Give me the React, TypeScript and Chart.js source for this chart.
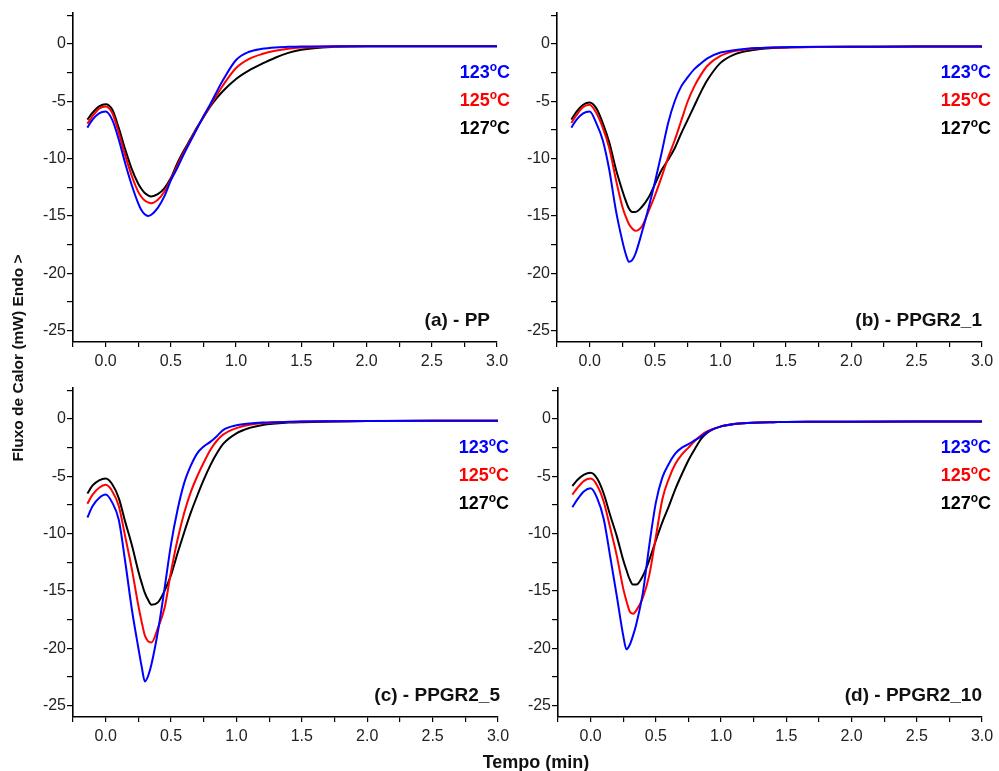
import React, { useEffect, useRef } from "react";
import { Chart, registerables } from "chart.js";

Chart.register(...registerables);

// ---- data (tempo in min, heat flow in mW) ----
const tempo = [-0.14, -0.1, -0.05, 0, 0.05, 0.1, 0.15, 0.2, 0.25, 0.275, 0.3, 0.325, 0.35, 0.4, 0.45, 0.5, 0.55, 0.6, 0.65, 0.7, 0.75, 0.8, 0.85, 0.9, 1.0, 1.1, 1.2, 1.3, 1.4, 1.5, 1.75, 2.0, 2.5, 3.0];

const ppT123 = [-7.3, -6.6, -6.05, -5.9, -6.6, -8.3, -10.4, -12.3, -13.9, -14.5, -14.85, -15.0, -14.9, -14.3, -13.3, -11.9, -10.8, -9.6, -8.5, -7.4, -6.3, -5.3, -4.2, -3.15, -1.4, -0.68, -0.42, -0.3, -0.25, -0.22, -0.2, -0.2, -0.2, -0.2];
const ppT125 = [-6.95, -6.3, -5.65, -5.45, -6.0, -7.7, -9.7, -11.5, -12.9, -13.35, -13.65, -13.82, -13.9, -13.6, -12.9, -11.8, -10.6, -9.45, -8.4, -7.35, -6.35, -5.4, -4.5, -3.6, -2.1, -1.3, -0.88, -0.6, -0.42, -0.32, -0.23, -0.2, -0.2, -0.2];
const ppT127 = [-6.6, -6.0, -5.45, -5.25, -5.7, -7.3, -9.2, -10.9, -12.2, -12.65, -13.0, -13.2, -13.3, -13.1, -12.6, -11.7, -10.4, -9.3, -8.3, -7.3, -6.4, -5.5, -4.75, -4.1, -3.05, -2.3, -1.72, -1.2, -0.78, -0.5, -0.25, -0.2, -0.2, -0.2];

const gr1T123 = [-7.3, -6.6, -6.05, -5.9, -6.9, -8.4, -11.0, -14.5, -17.2, -18.3, -19.0, -18.85, -18.3, -16.4, -14.3, -12.0, -9.5, -6.9, -5.0, -3.7, -2.9, -2.2, -1.7, -1.25, -0.75, -0.55, -0.42, -0.35, -0.3, -0.28, -0.25, -0.25, -0.22, -0.22];
const gr1T125 = [-6.9, -6.2, -5.5, -5.3, -6.0, -7.3, -9.1, -11.8, -14.2, -15.05, -15.7, -16.1, -16.3, -15.9, -14.6, -13.2, -11.6, -9.9, -8.4, -6.7, -5.0, -3.7, -2.7, -1.9, -1.05, -0.65, -0.48, -0.38, -0.32, -0.3, -0.27, -0.25, -0.22, -0.22];
const gr1T127 = [-6.6, -5.9, -5.3, -5.1, -5.6, -6.9, -8.6, -10.9, -12.8, -13.65, -14.35, -14.65, -14.65, -14.2, -13.4, -12.2, -11.0, -10.1, -9.1, -7.8, -6.6, -5.4, -4.2, -3.15, -1.65, -0.95, -0.62, -0.45, -0.35, -0.3, -0.27, -0.25, -0.22, -0.22];

const gr5T123 = [-8.6, -7.6, -6.9, -6.6, -7.3, -8.8, -12.5, -16.6, -20.0, -21.6, -22.9, -22.4, -21.4, -18.5, -14.8, -10.9, -7.9, -5.6, -4.1, -3.0, -2.4, -2.0, -1.5, -0.95, -0.55, -0.4, -0.32, -0.28, -0.25, -0.22, -0.2, -0.18, -0.15, -0.15];
const gr5T125 = [-7.4, -6.6, -6.0, -5.75, -6.3, -7.6, -10.3, -13.1, -16.3, -17.7, -18.9, -19.4, -19.5, -18.2, -16.5, -13.3, -10.5, -8.2, -6.4, -5.0, -3.8, -2.7, -1.9, -1.35, -0.8, -0.5, -0.37, -0.3, -0.26, -0.23, -0.2, -0.18, -0.15, -0.15];
const gr5T127 = [-6.5, -5.8, -5.35, -5.2, -5.7, -6.9, -9.0, -11.0, -13.3, -14.3, -15.2, -15.8, -16.2, -16.0, -15.0, -13.6, -11.7, -9.9, -8.2, -6.7, -5.3, -4.05, -3.0, -2.15, -1.25, -0.78, -0.52, -0.4, -0.32, -0.28, -0.22, -0.18, -0.15, -0.15];

const gr10T123 = [-7.7, -7.0, -6.3, -6.05, -6.9, -8.7, -12.0, -15.4, -18.9, -20.1, -19.7, -18.9, -17.9, -15.2, -11.0, -7.3, -5.1, -3.9, -3.0, -2.5, -2.2, -1.85, -1.5, -1.1, -0.65, -0.45, -0.35, -0.3, -0.28, -0.26, -0.25, -0.24, -0.23, -0.23];
const gr10T125 = [-6.6, -6.0, -5.4, -5.2, -5.8, -7.2, -9.5, -11.9, -14.8, -15.9, -16.8, -17.0, -16.7, -15.6, -13.6, -10.3, -7.0, -5.2, -3.9, -3.1, -2.5, -1.9, -1.4, -1.05, -0.65, -0.45, -0.35, -0.3, -0.28, -0.26, -0.25, -0.24, -0.23, -0.23];
const gr10T127 = [-5.85, -5.3, -4.85, -4.7, -5.2, -6.5, -8.4, -10.2, -12.3, -13.2, -14.0, -14.45, -14.45, -13.7, -12.3, -10.6, -9.0, -7.6, -6.1, -4.8, -3.6, -2.6, -1.7, -1.15, -0.65, -0.45, -0.35, -0.3, -0.28, -0.26, -0.25, -0.24, -0.23, -0.23];

const seriesNames = ["123", "125", "127"];
const seriesColors = ["#0000ff", "#ff0000", "#000000"];
const panelTitles = ["(a) - PP", "(b) - PPGR2_1", "(c) - PPGR2_5", "(d) - PPGR2_10"];
const xTickValues = [-0.25, 0, 0.25, 0.5, 0.75, 1.0, 1.25, 1.5, 1.75, 2.0, 2.25, 2.5, 2.75, 3.0];
const yTickValues = [2.5, 0, -2.5, -5, -7.5, -10, -12.5, -15, -17.5, -20, -22.5, -25];
const xMin = -0.25, xMax = 3.0, yMin = -26, yMax = 2.7;

const panelData = [
  [ppT123, ppT125, ppT127],
  [gr1T123, gr1T125, gr1T127],
  [gr5T123, gr5T125, gr5T127],
  [gr10T123, gr10T125, gr10T127],
];

// layout of the four panels (pixels)
const layouts = [
  { left: 0, top: 0, width: 515, height: 372, yW: 73, padTop: 13, padRight: 18, xH: 30, legDx: 13, titleDx: -7 },
  { left: 515, top: 0, width: 484, height: 372, yW: 42, padTop: 13, padRight: 17, xH: 30, legDx: 9, titleDx: 0 },
  { left: 0, top: 372, width: 515, height: 399, yW: 73, padTop: 16, padRight: 17, xH: 54, legDx: 11, titleDx: 2 },
  { left: 515, top: 372, width: 484, height: 399, yW: 43, padTop: 16, padRight: 17, xH: 54, legDx: 9, titleDx: 0 },
];

const FONT = '"Liberation Sans", Arial, Helvetica, sans-serif';

function Panel({ idx }: { idx: number }) {
  const ref = useRef<HTMLCanvasElement>(null);
  useEffect(() => {
    const L = layouts[idx];
    const textPlugin = {
      id: "panelText" + idx,
      afterDraw(chart: any) {
        const ctx = chart.ctx as CanvasRenderingContext2D;
        const ca = chart.chartArea;
        ctx.save();
        const big = `bold 18px ${FONT}`;
        const small = `bold 12px ${FONT}`;
        const right = ca.right + L.legDx;
        seriesNames.forEach((name, i) => {
          const baseY = ca.top + 58 + i * 28 + 6.5;
          ctx.font = big;
          const w1 = ctx.measureText(name).width;
          const w3 = ctx.measureText("C").width;
          ctx.font = small;
          const w2 = ctx.measureText("o").width;
          let x = right - (w1 + w2 + w3);
          ctx.fillStyle = seriesColors[i];
          ctx.textBaseline = "alphabetic";
          ctx.textAlign = "left";
          ctx.font = big;
          ctx.fillText(name, x, baseY);
          x += w1;
          ctx.font = small;
          ctx.fillText("o", x, baseY - 7);
          x += w2;
          ctx.font = big;
          ctx.fillText("C", x, baseY);
        });
        ctx.font = `bold 19px ${FONT}`;
        ctx.fillStyle = "#111";
        ctx.textAlign = "right";
        ctx.textBaseline = "middle";
        ctx.fillText(panelTitles[idx], ca.right + L.titleDx, ca.bottom - 21);
        ctx.restore();
      },
    };

    const chart = new Chart(ref.current as HTMLCanvasElement, {
      type: "line",
      data: {
        datasets: panelData[idx].map((vals, i) => ({
          label: seriesNames[i],
          data: tempo.map((t, k) => ({ x: t, y: vals[k] })),
          borderColor: seriesColors[i],
          borderWidth: 2,
          pointRadius: 0,
          cubicInterpolationMode: "monotone",
          fill: false,
        })),
      },
      options: {
        animation: false,
        responsive: false,
        maintainAspectRatio: false,
        devicePixelRatio: 1,
        layout: { padding: { top: L.padTop, right: L.padRight, left: 0, bottom: 0 } },
        plugins: { legend: { display: false }, tooltip: { enabled: false } },
        scales: {
          x: {
            type: "linear",
            min: xMin,
            max: xMax,
            afterBuildTicks: (s: any) => {
              s.ticks = xTickValues.map((v) => ({ value: v }));
            },
            afterFit: (s: any) => {
              s.height = L.xH;
              s.paddingLeft = 0;
              s.paddingRight = 0;
            },
            ticks: {
              autoSkip: false,
              maxRotation: 0,
              padding: 5,
              color: "#222",
              font: { family: FONT, size: 16 },
              callback: (v: any) => {
                const n = Number(v);
                return Math.abs(n * 2 - Math.round(n * 2)) < 1e-6 ? n.toFixed(1) : "";
              },
            },
            grid: { drawOnChartArea: false, drawTicks: true, tickLength: 5, color: "#000", lineWidth: 1.2 },
            border: { display: true, color: "#000", width: 1.6 },
          },
          y: {
            type: "linear",
            min: yMin,
            max: yMax,
            afterBuildTicks: (s: any) => {
              s.ticks = yTickValues.map((v) => ({ value: v }));
            },
            afterFit: (s: any) => {
              s.width = L.yW;
              s.paddingTop = 0;
              s.paddingBottom = 0;
            },
            ticks: {
              autoSkip: false,
              padding: 1,
              color: "#222",
              font: { family: FONT, size: 16 },
              callback: (v: any) => {
                const n = Number(v);
                return Math.abs(n / 5 - Math.round(n / 5)) < 1e-6 ? String(n) : "";
              },
            },
            grid: { drawOnChartArea: false, drawTicks: true, tickLength: 6, color: "#000", lineWidth: 1.2 },
            border: { display: true, color: "#000", width: 1.6 },
          },
        },
      },
      plugins: [textPlugin],
    } as any);
    return () => chart.destroy();
  }, [idx]);
  const L = layouts[idx];
  return (
    <canvas
      ref={ref}
      width={L.width}
      height={L.height}
      style={{ position: "absolute", left: L.left, top: L.top, width: L.width, height: L.height }}
    />
  );
}

export default function App() {
  return (
    <div style={{ position: "absolute", left: 0, top: 0, width: 999, height: 771, overflow: "hidden", background: "#fff" }}>
      {layouts.map((_, i) => (
        <Panel key={i} idx={i} />
      ))}
      <div
        style={{
          position: "absolute",
          left: 19 - 160,
          top: 358 - 10,
          width: 320,
          height: 20,
          lineHeight: "20px",
          textAlign: "center",
          transform: "rotate(-90deg)",
          transformOrigin: "center center",
          font: `bold 15.5px ${FONT}`,
          color: "#111",
          whiteSpace: "nowrap",
        }}
      >
        Fluxo de Calor (mW) Endo &gt;
      </div>
      <div
        style={{
          position: "absolute",
          left: 436,
          top: 752,
          width: 200,
          height: 22,
          lineHeight: "20px",
          textAlign: "center",
          font: `bold 18px ${FONT}`,
          color: "#111",
          whiteSpace: "nowrap",
        }}
      >
        Tempo (min)
      </div>
    </div>
  );
}
